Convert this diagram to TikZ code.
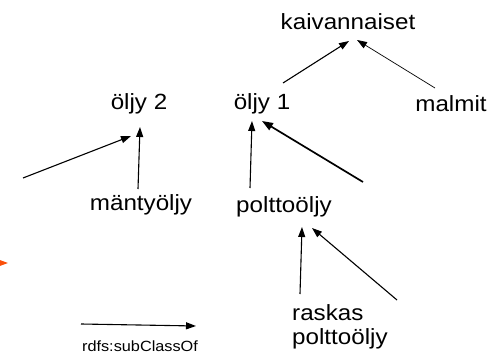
\documentclass[tikz,border=0pt]{standalone}
\usepackage{fontspec}
\setmainfont{Liberation Sans}
\usetikzlibrary{arrows.meta}
\newcommand{\widetxt}[1]{\scalebox{1.1}[1]{#1}}
\definecolor{tipred}{RGB}{250,80,10}
\begin{document}
\begin{tikzpicture}[x=1pt,y=-1pt,
  lbl/.style={inner sep=0pt,font=\fontsize{22}{24}\selectfont},
  small/.style={inner sep=0pt,font=\fontsize{14.8}{17}\selectfont},
  arr/.style={line width=1.1pt,-{Triangle[length=10pt,width=7pt]}},
  thinarr/.style={line width=0.7pt,-{Triangle[length=10pt,width=7pt]}},
  thickarr/.style={line width=1.7pt,-{Triangle[length=11pt,width=8pt]}}]
\useasboundingbox (0,0) rectangle (496,353);
\clip (0,0) rectangle (496,353);
% nodes
\node[lbl] (kai) at (348,22) {\widetxt{kaivannaiset}};
\node[lbl] (o1) at (262,104) {\widetxt{öljy 1}};
\node[lbl] (mal) at (451,104) {\widetxt{malmit}};
\node[lbl] (o2) at (139,104) {\widetxt{öljy 2}};
\node[lbl] (man) at (141,205) {\widetxt{mäntyöljy}};
\node[lbl] (pol) at (284,207) {\widetxt{polttoöljy}};
\node[lbl,anchor=north west,align=left] (ras) at (292,304) {\widetxt{raskas}\\\widetxt{polttoöljy}};
\node[small] (leg) at (140,346) {\widetxt{rdfs:subClassOf}};
% endpoints
\coordinate (o1a) at (283,83);   \coordinate (kaia) at (349,41);
\coordinate (mala) at (435,88);  \coordinate (kaib) at (357,40);
\coordinate (pola) at (250,188); \coordinate (o1b) at (252,121);
\coordinate (polb) at (363,182); \coordinate (o1c) at (262,121);
\coordinate (rasa) at (300,294); \coordinate (polc) at (302,227);
\coordinate (rasb) at (397,300); \coordinate (pold) at (312,228);
\coordinate (mana) at (138,189); \coordinate (o2a) at (140,127);
\coordinate (lefta) at (23,178); \coordinate (o2b) at (131,136);
\coordinate (lega) at (81,324);  \coordinate (legb) at (196,326);
\coordinate (ora) at (-25,263);  \coordinate (orb) at (8,263);
% connectors
\draw[arr] (o1a) -- (kaia);
\draw[thinarr] (mala) -- (kaib);
\draw[arr] (pola) -- (o1b);
\draw[thickarr] (polb) -- (o1c);
\draw[arr] (rasa) -- (polc);
\draw[arr] (rasb) -- (pold);
\draw[arr] (mana) -- (o2a);
\draw[arr] (lefta) -- (o2b);
\draw[arr] (lega) -- (legb);
\draw[tipred,line width=1.1pt,-{Triangle[length=10pt,width=7pt]}] (ora) -- (orb);
\end{tikzpicture}
\end{document}
